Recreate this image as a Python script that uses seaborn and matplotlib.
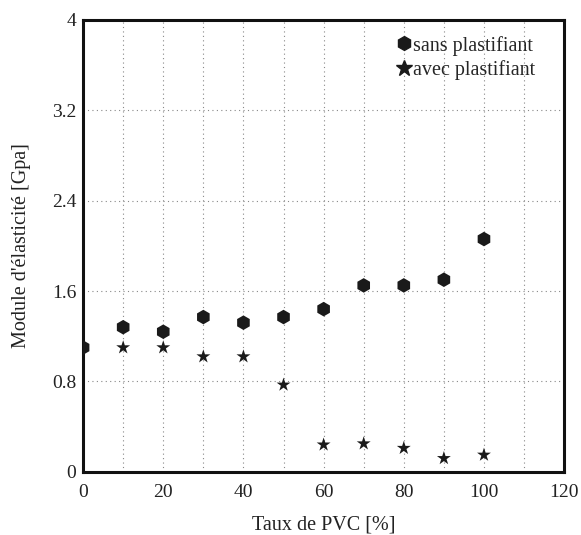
import matplotlib
matplotlib.use("Agg")
import matplotlib.pyplot as plt
import seaborn as sns
import pandas as pd
from matplotlib.ticker import MultipleLocator
from matplotlib.lines import Line2D

taux_sans = [0, 10, 20, 30, 40, 50, 60, 70, 80, 90, 100]
module_sans = [1.10, 1.28, 1.24, 1.37, 1.32, 1.37, 1.44, 1.65, 1.65, 1.70, 2.06]
taux_avec = [10, 20, 30, 40, 50, 60, 70, 80, 90, 100]
module_avec = [1.10, 1.10, 1.02, 1.02, 0.77, 0.24, 0.25, 0.21, 0.12, 0.15]
series_names = ["sans plastifiant", "avec plastifiant"]
x_ticks = [0, 20, 40, 60, 80, 100, 120]
y_ticks = [0, 0.8, 1.6, 2.4, 3.2, 4]
y_ticklabels = ["0", "0.8", "1.6", "2.4", "3.2", "4"]

df = pd.concat([
    pd.DataFrame({"x": taux_sans, "y": module_sans, "serie": series_names[0]}),
    pd.DataFrame({"x": taux_avec, "y": module_avec, "serie": series_names[1]}),
])

sns.set_theme(style="white")
plt.rcParams["font.family"] = ["Liberation Serif", "DejaVu Serif"]

fig = plt.figure(figsize=(5.81, 5.35), dpi=100)
ax = fig.add_axes([0.143, 0.118, 0.828, 0.845])

sns.scatterplot(data=df, x="x", y="y", hue="serie", style="serie",
                markers={series_names[0]: "h", series_names[1]: "*"},
                palette={series_names[0]: "#1a1a1a", series_names[1]: "#1a1a1a"},
                s=110, linewidth=0, ax=ax, legend=False, zorder=3)
for coll, sz in zip(ax.collections, [110, 150]):
    coll.set_sizes([sz])

ax.set_xlim(0, 120)
ax.set_ylim(0, 4)
ax.set_xticks(x_ticks)
ax.xaxis.set_minor_locator(MultipleLocator(10))
ax.set_yticks(y_ticks)
ax.set_yticklabels(y_ticklabels)
ax.grid(True, which="both", axis="x", linestyle=(0, (1, 3)), color="#888888", linewidth=0.8)
ax.grid(True, which="major", axis="y", linestyle=(0, (1, 3)), color="#888888", linewidth=0.8)
ax.tick_params(which="both", length=0, labelsize=14, colors="#222222")
ax.tick_params(axis="x", pad=9)
ax.tick_params(axis="y", pad=5)
for sp in ax.spines.values():
    sp.set_linewidth(2.2)
    sp.set_color("#111111")
    sp.set_visible(True)

ax.set_xlabel("Taux de PVC [%]", fontsize=14.5, color="#222222", labelpad=10)
ax.set_ylabel("Module d'élasticité [Gpa]", fontsize=14.5, color="#222222", labelpad=15)

handles = [Line2D([], [], marker="h", linestyle="none", color="#1a1a1a", markersize=10),
           Line2D([], [], marker="*", linestyle="none", color="#1a1a1a", markersize=12)]
ax.legend(handles, series_names, loc="upper right", bbox_to_anchor=(0.94, 0.965),
          frameon=False, fontsize=14.5, handlelength=0.6, handletextpad=0.15,
          borderaxespad=0, borderpad=0, labelspacing=0.25)

fig.savefig("out.png", dpi=100)
